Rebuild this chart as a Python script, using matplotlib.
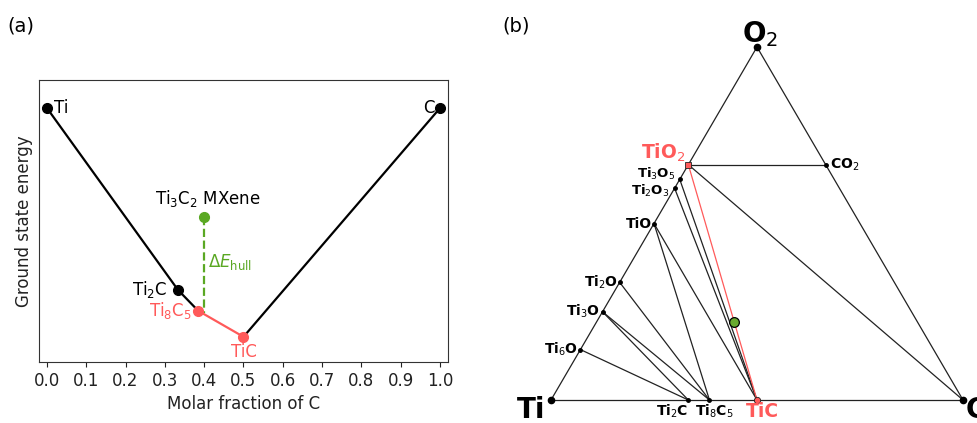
import numpy as np
from matplotlib import pyplot as plt

plt.rcParams['font.family'] = ['DejaVu Sans']
plt.rcParams['mathtext.fontset'] = 'dejavusans'

RED = '#ff5a5a'
GREEN = '#5aa823'

# ---- (a) convex hull data ----
hull_names = ['Ti', 'Ti2C', 'Ti8C5', 'TiC', 'C']
hull_x = [0.0, 1/3, 5/13, 0.5, 1.0]
hull_e = [0.0, -0.795, -0.886, -1.0, 0.0]
mxene_x = 0.4
mxene_e = -0.476
hull_at_mxene = -0.898

# ---- (b) ternary Ti-C-O data ----
phases = ['Ti', 'C', 'O2', 'TiO2', 'CO2', 'Ti3O5', 'Ti2O3', 'TiO',
          'Ti2O', 'Ti3O', 'Ti6O', 'Ti2C', 'Ti8C5', 'TiC']
n_ti = [1, 0, 0, 1, 0, 3, 2, 1, 2, 3, 6, 2, 8, 1]
n_c = [0, 1, 0, 0, 1, 0, 0, 0, 0, 0, 0, 1, 5, 1]
n_o = [0, 0, 2, 2, 2, 5, 3, 1, 1, 1, 1, 0, 0, 0]
ties = [('Ti', 'O2'), ('O2', 'C'), ('Ti', 'C'), ('TiO2', 'CO2'), ('TiO2', 'C'),
        ('Ti3O5', 'TiC'), ('Ti2O3', 'TiC'), ('TiO', 'TiC'), ('TiO', 'Ti8C5'),
        ('Ti2O', 'Ti8C5'), ('Ti3O', 'Ti8C5'), ('Ti3O', 'Ti2C'), ('Ti6O', 'Ti2C')]
red_tie = ('TiO2', 'TiC')
mxene_comp = (4, 3, 2)  # Ti, C, O


def tern(ti, c, o):
    s = ti + c + o
    c, o = c / s, o / s
    return c + o / 2, o * np.sqrt(3) / 2


pos = {p: tern(a, b, d) for p, a, b, d in zip(phases, n_ti, n_c, n_o)}

fig = plt.figure(figsize=(9.77, 4.23), dpi=100)

# ================= (a) =================
ax = fig.add_axes([39/977, 61/423, 409/977, 282/423])
ax.plot(hull_x[:3], hull_e[:3], color='k', lw=1.6, zorder=2)
ax.plot(hull_x[2:4], hull_e[2:4], color=RED, lw=1.6, zorder=2)
ax.plot(hull_x[3:], hull_e[3:], color='k', lw=1.6, zorder=2)
ax.plot([mxene_x, mxene_x], [mxene_e, hull_at_mxene], color=GREEN, lw=1.6, ls='--', zorder=1)
cols = ['k', 'k', RED, RED, 'k']
for x, e, c in zip(hull_x, hull_e, cols):
    ax.plot(x, e, 'o', color=c, ms=7, zorder=3)
ax.plot(mxene_x, mxene_e, 'o', color=GREEN, ms=7, zorder=3)

fs = 12
ax.annotate('Ti', (hull_x[0], hull_e[0]), xytext=(7, 0), textcoords='offset pixels',
            ha='left', va='center', fontsize=fs)
ax.annotate('C', (hull_x[4], hull_e[4]), xytext=(-6, 0), textcoords='offset pixels',
            ha='right', va='center', fontsize=fs)
ax.annotate('Ti$_2$C', (hull_x[1], hull_e[1]), xytext=(-10, 0), textcoords='offset pixels',
            ha='right', va='center', fontsize=fs)
ax.annotate('Ti$_8$C$_5$', (hull_x[2], hull_e[2]), xytext=(-6, 0), textcoords='offset pixels',
            ha='right', va='center', fontsize=fs, color=RED)
ax.annotate('TiC', (hull_x[3], hull_e[3]), xytext=(0, -6), textcoords='offset pixels',
            ha='center', va='top', fontsize=fs, color=RED)
ax.annotate('Ti$_3$C$_2$ MXene', (mxene_x, mxene_e), xytext=(4, 8), textcoords='offset pixels',
            ha='center', va='bottom', fontsize=fs)
ax.annotate(r'$\Delta E_{\rm hull}$', (mxene_x, (mxene_e + hull_at_mxene) / 2),
            xytext=(4, 3), textcoords='offset pixels', ha='left', va='center',
            fontsize=fs, color=GREEN)

ax.set_xlim(-0.02, 1.02)
ax.set_ylim(-1.11, 0.122)
ax.set_xticks(np.arange(0, 1.01, 0.1))
ax.set_xticklabels(['%.1f' % v for v in np.arange(0, 1.01, 0.1)])
ax.set_yticks([])
ax.tick_params(labelsize=fs, colors='#222222')
ax.set_xlabel('Molar fraction of C', fontsize=fs, color='#222222')
ax.set_ylabel('Ground state energy', fontsize=fs, color='#222222')
for s in ax.spines.values():
    s.set_color('#333333')
fig.text(7/977, 1 - 26/423, '(a)', fontsize=14, ha='left', va='center')

# ================= (b) =================
bx = fig.add_axes([510/977, 0, 467/977, 1])
sc = 407.6
bx.set_xlim((510 - 551) / 412, (977 - 551) / 412)
bx.set_ylim((400 - 423) / sc, 400 / sc)
bx.axis('off')

for a, b in ties:
    bx.plot([pos[a][0], pos[b][0]], [pos[a][1], pos[b][1]], color='#222222', lw=0.9, zorder=1)
a, b = red_tie
bx.plot([pos[a][0], pos[b][0]], [pos[a][1], pos[b][1]], color=RED, lw=0.9, zorder=2)

for p in phases:
    if p in ('TiO2', 'TiC'):
        continue
    ms = 4.5 if p in ('Ti', 'C', 'O2') else 2.5
    bx.plot(*pos[p], 'o', color='k', ms=ms, zorder=3)
bx.plot(*pos['TiO2'], 's', mfc=RED, mec='#222222', mew=0.6, ms=4, zorder=3)
bx.plot(*pos['TiC'], 'o', mfc=RED, mec='#222222', mew=0.6, ms=4.5, zorder=3)
bx.plot(*tern(*mxene_comp), 'o', mfc='#6aa92e', mec='k', mew=0.9, ms=7, zorder=4)

# labels: phase, offset (px), ha, va, size, color
lab = [
    ('O2', 'O$_2$', (3, 5), 'center', 'baseline', 20, 'k'),
    ('Ti', 'Ti', (-6, -18), 'right', 'baseline', 20, 'k'),
    ('C', 'C', (3, -18), 'left', 'baseline', 20, 'k'),
    ('TiO2', 'TiO$_2$', (-3, 1), 'right', 'bottom', 13.5, RED),
    ('TiC', 'TiC', (5, -2), 'center', 'top', 13.5, RED),
    ('CO2', 'CO$_2$', (4, 0), 'left', 'center', 10, 'k'),
    ('Ti3O5', 'Ti$_3$O$_5$', (-4, 5), 'right', 'center', 9.5, 'k'),
    ('Ti2O3', 'Ti$_2$O$_3$', (-5, -3), 'right', 'center', 9.5, 'k'),
    ('TiO', 'TiO', (-2, 0), 'right', 'center', 10, 'k'),
    ('Ti2O', 'Ti$_2$O', (-2, 0), 'right', 'center', 10, 'k'),
    ('Ti3O', 'Ti$_3$O', (-2, 0), 'right', 'center', 10, 'k'),
    ('Ti6O', 'Ti$_6$O', (-2, 0), 'right', 'center', 10, 'k'),
    ('Ti2C', 'Ti$_2$C', (0, -3), 'right', 'top', 10, 'k'),
    ('Ti8C5', 'Ti$_8$C$_5$', (5, -3), 'center', 'top', 10, 'k'),
]
for p, t, off, ha, va, size, c in lab:
    bx.annotate(t, pos[p], xytext=off, textcoords='offset pixels', ha=ha, va=va,
                fontsize=size, fontweight='bold', color=c, annotation_clip=False)

fig.text(502/977, 1 - 26/423, '(b)', fontsize=14, ha='left', va='center')

plt.savefig('out.png', dpi=100)
